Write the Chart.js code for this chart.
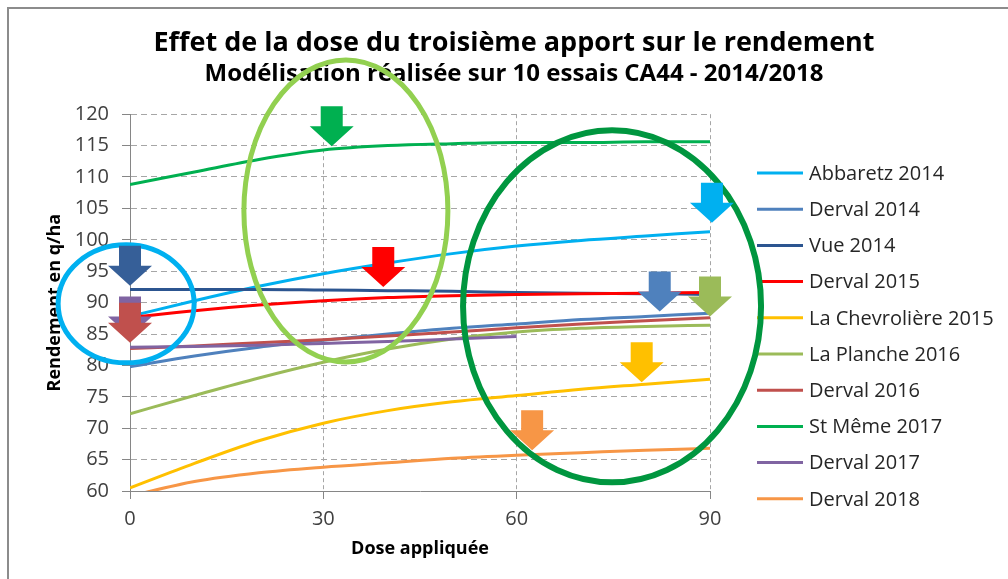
<!DOCTYPE html>
<html>
<head>
<meta charset="utf-8">
<script src="https://cdn.jsdelivr.net/npm/chart.js@4.4.0/dist/chart.umd.min.js"></script>
<style>
  html, body { margin: 0; padding: 0; background: #fff; }
  #wrap { width: 1008px; height: 579px; position: relative; }
</style>
</head>
<body>
<div id="wrap"><canvas id="dose-chart"></canvas></div>
<script>
// doses (x) and modelled yields (q/ha)
const doses = [0, 10, 20, 30, 40, 50, 60, 70, 80, 90];

const abbaretz2014 = [87.8, 90.3, 92.6, 94.6, 96.3, 97.8, 99.0, 99.9, 100.6, 101.3];
const derval2014 = [79.8, 81.5, 82.9, 84.0, 85.0, 85.9, 86.6, 87.3, 87.8, 88.3];
const vue2014 = [92.1, 92.1, 92.1, 92.0, 91.9, 91.8, 91.6, 91.5, 91.4, 91.3];
const derval2015 = [87.6, 88.7, 89.6, 90.3, 90.8, 91.1, 91.3, 91.4, 91.5, 91.6];
const chevroliere2015 = [60.5, 64.4, 68.0, 70.8, 72.8, 74.2, 75.2, 76.2, 77.0, 77.8];
const planche2016 = [72.3, 75.2, 78.0, 80.5, 82.6, 84.2, 85.3, 85.9, 86.2, 86.4];
const derval2016 = [82.7, 83.1, 83.6, 84.1, 84.7, 85.3, 86.0, 86.6, 87.1, 87.6];
const stMeme2017 = [108.8, 110.8, 112.8, 114.3, 115.0, 115.3, 115.5, 115.5, 115.6, 115.6];
const derval2017 = [82.9, 83.0, 83.2, 83.5, 83.8, 84.2, 84.6];
const derval2018 = [59.2, 61.5, 62.9, 63.8, 64.5, 65.2, 65.7, 66.1, 66.5, 66.8];

const seriesNames = [
    "Abbaretz 2014", "Derval 2014", "Vue 2014", "Derval 2015", "La Chevrolière 2015",
    "La Planche 2016", "Derval 2016", "St Même 2017", "Derval 2017", "Derval 2018",
];
const seriesValues = [
    abbaretz2014, derval2014, vue2014, derval2015, chevroliere2015,
    planche2016, derval2016, stMeme2017, derval2017, derval2018,
];
const seriesColors = [
    "#00B0F0", "#4F81BD", "#2C5590", "#FF0000", "#FFC000",
    "#9BBB59", "#C0504D", "#00B050", "#8064A2", "#F79646",
];

// hand-drawn marks over the chart: down arrows (tip position) and ellipses
const arrowDoses = [31.3, 0, 0, 0, 39.3, 90.3, 82.2, 90, 79.4, 62.4];
const arrowTips = [114.9, 92.7, 84.6, 83.6, 92.5, 102.7, 88.6, 87.8, 77.3, 66.5];
const arrowColors = [
    "#00B050", "#365F98", "#8064A2", "#C0504D", "#FF0000",
    "#00B0F0", "#4F81BD", "#9BBB59", "#FFC000", "#F79646",
];
const ellipseDoses = [-0.6, 33.5, 74.8];
const ellipseValues = [89.8, 104.6, 89.4];
const ellipseRadii = [[68, 59], [102, 151], [149, 176]];
const ellipseColors = ["#00B0F0", "#92D050", "#00963F"];

const FONT = "'Open Sans', Lato, sans-serif";

const datasets = seriesNames.map((name, i) => ({
    label: name,
    data: seriesValues[i].map((v, j) => ({ x: doses[j], y: v })),
    borderColor: seriesColors[i],
    backgroundColor: seriesColors[i],
    borderWidth: 3,
    pointRadius: 0,
    cubicInterpolationMode: "monotone",
    order: seriesNames.length - i,
}));

const frame = {
    id: "frame",
    beforeDraw(chart) {
        const ctx = chart.ctx;
        ctx.save();
        ctx.fillStyle = "#fff";
        ctx.fillRect(0, 0, chart.width, chart.height);
        ctx.strokeStyle = "#8C8C8C";
        ctx.lineWidth = 2;
        ctx.beginPath();
        ctx.moveTo(8, chart.height);
        ctx.lineTo(8, 8);
        ctx.lineTo(chart.width, 8);
        ctx.stroke();
        ctx.restore();
    },
};

const sideLegend = {
    id: "sideLegend",
    afterDraw(chart) {
        const ctx = chart.ctx;
        const x0 = chart.chartArea.right + 47;
        ctx.save();
        ctx.font = "20px " + FONT;
        ctx.textBaseline = "middle";
        chart.data.datasets.forEach((ds, i) => {
            const y = 173 + i * 36.2;
            ctx.strokeStyle = ds.borderColor;
            ctx.lineWidth = 3;
            ctx.beginPath();
            ctx.moveTo(x0, y);
            ctx.lineTo(x0 + 46, y);
            ctx.stroke();
            ctx.fillStyle = "#262626";
            ctx.fillText(ds.label, x0 + 52, y + 1);
        });
        ctx.restore();
    },
};

const marks = {
    id: "marks",
    afterDraw(chart) {
        const ctx = chart.ctx;
        const xs = chart.scales.x;
        const ys = chart.scales.y;
        ctx.save();
        ellipseDoses.forEach((d, i) => {
            ctx.strokeStyle = ellipseColors[i];
            ctx.lineWidth = i === 2 ? 6 : 5;
            ctx.beginPath();
            ctx.ellipse(xs.getPixelForValue(d), ys.getPixelForValue(ellipseValues[i]),
                ellipseRadii[i][0], ellipseRadii[i][1], 0, 0, Math.PI * 2);
            ctx.stroke();
        });
        arrowDoses.forEach((d, i) => {
            const tx = xs.getPixelForValue(d);
            const ty = ys.getPixelForValue(arrowTips[i]);
            const h = 40, hh = 20, sw = 11, hw = 22;
            ctx.fillStyle = arrowColors[i];
            ctx.beginPath();
            ctx.moveTo(tx - sw, ty - h);
            ctx.lineTo(tx + sw, ty - h);
            ctx.lineTo(tx + sw, ty - hh);
            ctx.lineTo(tx + hw, ty - hh);
            ctx.lineTo(tx, ty);
            ctx.lineTo(tx - hw, ty - hh);
            ctx.lineTo(tx - sw, ty - hh);
            ctx.closePath();
            ctx.fill();
        });
        ctx.restore();
    },
};

const config = {
    type: "line",
    data: { datasets: datasets },
    plugins: [frame, sideLegend, marks],
    options: {
        responsive: true,
        maintainAspectRatio: false,
        animation: false,
        layout: { padding: { left: 20, right: 0, top: 0, bottom: 0 } },
        plugins: {
            legend: { display: false },
            tooltip: { enabled: false },
            title: {
                display: true,
                text: "Effet de la dose du troisième apport sur le rendement",
                color: "#000",
                font: { family: FONT, size: 27, weight: "bold" },
                padding: { top: 27, bottom: 0 },
            },
            subtitle: {
                display: true,
                text: "Modélisation réalisée sur 10 essais CA44 - 2014/2018",
                color: "#000",
                font: { family: FONT, size: 24, weight: "bold" },
                padding: { top: 0, bottom: 26 },
            },
        },
        scales: {
            x: {
                type: "linear",
                min: 0,
                max: 90,
                afterFit(scale) { scale.height = 88; },
                ticks: {
                    stepSize: 30,
                    color: "#404040",
                    padding: 8,
                    font: { family: FONT, size: 20 },
                },
                grid: {
                    color: "#A6A6A6",
                    tickLength: 8,
                    tickColor: "#868686",
                },
                border: { color: "#868686", width: 1, dash: [4, 3] },
                title: {
                    display: true,
                    text: "Dose appliquée",
                    color: "#000",
                    font: { family: FONT, size: 18, weight: "bold" },
                    padding: { top: 0, bottom: 19 },
                },
            },
            y: {
                min: 60,
                max: 120,
                afterFit(scale) { scale.width = 110; },
                ticks: {
                    stepSize: 5,
                    color: "#404040",
                    padding: 13,
                    font: { family: FONT, size: 20 },
                },
                grid: {
                    color: "#A6A6A6",
                    tickLength: 8,
                    tickColor: "#868686",
                },
                border: { color: "#868686", width: 1, dash: [6, 4] },
                title: {
                    display: true,
                    text: "Rendement en q/ha",
                    color: "#000",
                    font: { family: FONT, size: 18, weight: "bold" },
                    padding: { top: 24, bottom: 0 },
                },
            },
            // empty right-hand band that keeps room for the legend
            legendSpace: {
                type: "linear",
                position: "right",
                afterFit(scale) { scale.width = 298; },
                ticks: { display: false },
                grid: { display: false },
                border: { display: false },
            },
        },
    },
};

new Chart(document.getElementById("dose-chart"), config);
</script>
</body>
</html>
